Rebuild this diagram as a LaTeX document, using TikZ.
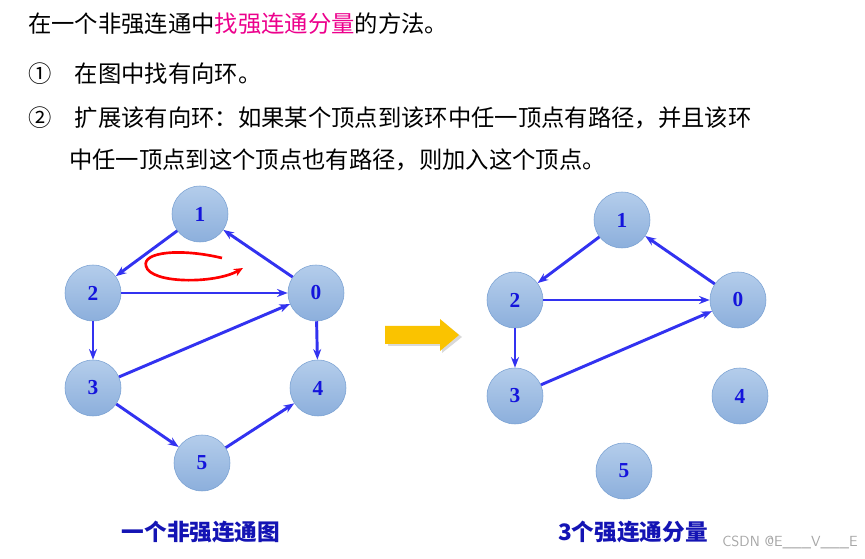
\documentclass[tikz,border=0pt]{standalone}
\usepackage{fontspec}
\setmainfont{Liberation Serif}
\newfontfamily\cjk{Noto Sans CJK SC}
\usetikzlibrary{arrows.meta}
\definecolor{vdraw}{RGB}{120,160,210}
\definecolor{vtop}{RGB}{180,205,235}
\definecolor{vbot}{RGB}{140,175,220}
\definecolor{vtext}{RGB}{20,20,220}
\definecolor{edgeblue}{RGB}{50,50,240}
\definecolor{arrowyellow}{RGB}{250,195,0}
\definecolor{captblue}{RGB}{20,20,180}
\begin{document}
\begin{tikzpicture}[x=0.75pt,y=0.75pt,yscale=-1,
  vtx/.style={circle,draw=vdraw,top color=vtop,bottom color=vbot,minimum size=42pt,inner sep=0pt,font=\bfseries\fontsize{16}{18}\selectfont,text=vtext},
  edge/.style={-{Stealth[length=8pt,width=6pt]},line width=2.2pt,draw=edgeblue}]
\useasboundingbox (0,0) rectangle (865,559);

% Text Node
\draw (27,24) node [anchor=west][inner sep=0.75pt] {\cjk\fontsize{17.5}{20}\selectfont 在一个非强连通中\textcolor{magenta}{找强连通分量}的方法。};
\draw (27,74) node [anchor=west][inner sep=0.75pt] {\cjk\fontsize{17.5}{20}\selectfont ①\quad 在图中找有向环。};
\draw (27,118) node [anchor=west][inner sep=0.75pt] {\cjk\fontsize{17.5}{20}\selectfont ②\quad 扩展该有向环：如果某个顶点到该环中任一顶点有路径，并且该环};
\draw (68,160) node [anchor=west][inner sep=0.75pt] {\cjk\fontsize{17.5}{20}\selectfont 中任一顶点到这个顶点也有路径，则加入这个顶点。};

% left graph
\node [vtx] (a1) at (200,214) {1};
\node [vtx] (a2) at (93,293) {2};
\node [vtx] (a0) at (316,293) {0};
\node [vtx] (a3) at (93,388) {3};
\node [vtx] (a4) at (318,388) {4};
\node [vtx] (a5) at (202,463) {5};
\draw [edge] (a1) -- (a2);
\draw [edge] (a0) -- (a1);
\draw [edge] (a2) -- (a0);
\draw [edge] (a2) -- (a3);
\draw [edge] (a3) -- (a0);
\draw [edge] (a0) -- (a4);
\draw [edge] (a3) -- (a5);
\draw [edge] (a5) -- (a4);
% red loop
\draw [red,line width=2pt,-{Stealth[length=7pt,width=6pt]}] (222,258) .. controls (180,248) and (142,252) .. (146,266) .. controls (150,284) and (215,284) .. (243,268);

% arrow
\fill [black,opacity=0.15] (388,328) -- (442,328) -- (442,321) -- (462,337) -- (442,353) -- (442,346) -- (388,346) -- cycle;
\fill [arrowyellow] (385,326) -- (440,326) -- (440,319) -- (459,335) -- (440,351) -- (440,344) -- (385,344) -- cycle;

% right graph
\node [vtx] (b1) at (622,220) {1};
\node [vtx] (b2) at (515,300) {2};
\node [vtx] (b0) at (738,300) {0};
\node [vtx] (b3) at (515,396) {3};
\node [vtx] (b4) at (740,396) {4};
\node [vtx] (b5) at (624,471) {5};
\draw [edge] (b1) -- (b2);
\draw [edge] (b0) -- (b1);
\draw [edge] (b2) -- (b0);
\draw [edge] (b2) -- (b3);
\draw [edge] (b3) -- (b0);

% captions
\draw (201,532) node [inner sep=0.75pt,text=captblue] {\cjk\bfseries\fontsize{17}{19}\selectfont 一个非强连通图};
\draw (633,532) node [inner sep=0.75pt,text=captblue] {\cjk\bfseries\fontsize{17}{19}\selectfont \textbf{3}个强连通分量};
\draw (790,542) node [inner sep=0.75pt,text=gray!70] {\sffamily\fontsize{11}{12}\selectfont CSDN @E\_\_\_V\_\_\_E};
\end{tikzpicture}
\end{document}
